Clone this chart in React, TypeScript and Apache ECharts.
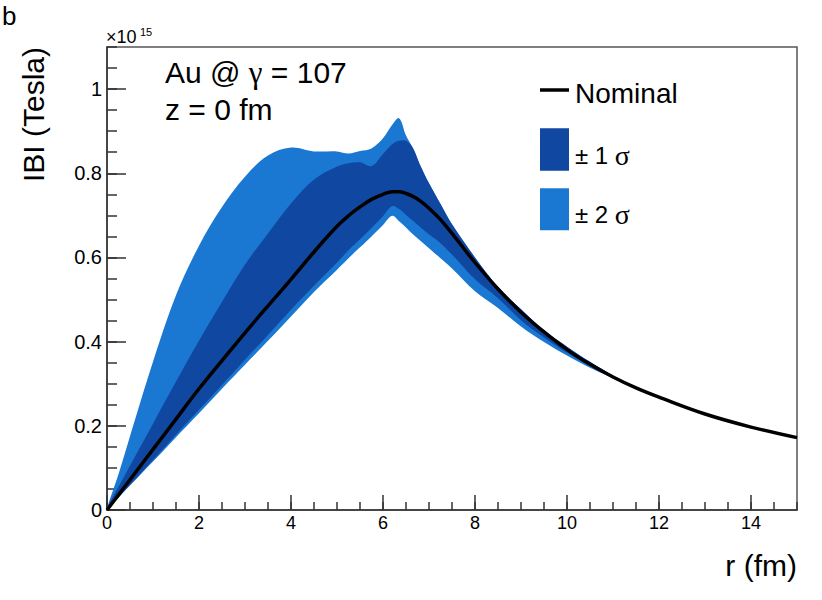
import React, { useEffect, useRef } from "react";
import * as echarts from "echarts";

const xs = [0, 0.25, 0.5, 1, 1.5, 2, 2.5, 3, 3.5, 4, 4.5, 5, 5.25, 5.5, 5.75, 6, 6.2, 6.35, 6.5, 6.65, 6.8, 7, 7.25, 7.5, 8, 8.5, 9, 9.5, 10, 10.5, 11, 11.5, 12, 13, 14, 15];

const nominal = [0, 0.036, 0.072, 0.144, 0.216, 0.288, 0.355, 0.421, 0.485, 0.548, 0.613, 0.674, 0.699, 0.72, 0.738, 0.75, 0.756, 0.756, 0.752, 0.745, 0.735, 0.717, 0.69, 0.657, 0.588, 0.525, 0.47, 0.423, 0.381, 0.346, 0.316, 0.29, 0.268, 0.228, 0.197, 0.172];

const upper1 = [0.005, 0.055, 0.105, 0.205, 0.305, 0.402, 0.494, 0.583, 0.657, 0.728, 0.785, 0.816, 0.824, 0.826, 0.817, 0.846, 0.869, 0.877, 0.877, 0.86, 0.821, 0.776, 0.727, 0.679, 0.6, 0.53, 0.477, 0.427, 0.388, 0.352, 0.319, 0.291, 0.268, 0.228, 0.197, 0.172];

const lower1 = [0, 0.03, 0.06, 0.119, 0.179, 0.238, 0.297, 0.357, 0.416, 0.476, 0.533, 0.588, 0.617, 0.643, 0.67, 0.698, 0.722, 0.715, 0.701, 0.687, 0.673, 0.655, 0.634, 0.607, 0.548, 0.503, 0.451, 0.41, 0.374, 0.342, 0.315, 0.29, 0.268, 0.228, 0.197, 0.172];

const upper2 = [0.005, 0.085, 0.175, 0.352, 0.51, 0.628, 0.72, 0.792, 0.842, 0.861, 0.852, 0.852, 0.847, 0.853, 0.859, 0.883, 0.915, 0.931, 0.89, 0.86, 0.821, 0.776, 0.727, 0.679, 0.6, 0.53, 0.477, 0.427, 0.388, 0.352, 0.319, 0.291, 0.268, 0.228, 0.197, 0.172];

const lower2 = [0, 0.029, 0.058, 0.115, 0.173, 0.23, 0.288, 0.345, 0.402, 0.46, 0.518, 0.571, 0.598, 0.624, 0.65, 0.677, 0.699, 0.686, 0.671, 0.655, 0.641, 0.622, 0.598, 0.574, 0.52, 0.48, 0.436, 0.399, 0.367, 0.338, 0.314, 0.29, 0.268, 0.228, 0.197, 0.172];

const legendNames = ["Nominal", "± 1 σ", "± 2 σ"];

const LIGHT = "#1a78d3";
const DARK = "#0f47a1";
const SANS = '"Liberation Sans", Arial, Helvetica, sans-serif';
const SERIF = '"Liberation Serif", "Times New Roman", serif';
const AXIS = "#333";

export default function App() {
  const ref = useRef<HTMLDivElement>(null);
  useEffect(() => {
    document.body.style.margin = "0";
    if (!ref.current) return;
    const chart = echarts.init(ref.current, null, { renderer: "svg" });
    const pair = (arr: number[]) => xs.map((x, i) => [x, arr[i]]);
    const yFmt = (v: number) => String(Math.round(v * 10) / 10);

    const bandSeries = (name: string, up: number[], lo: number[], color: string, z: number) => ({
      type: "custom",
      name,
      data: [[0, 0]],
      silent: true,
      z,
      itemStyle: { color },
      renderItem: (params: any, api: any) => {
        const top = xs.map((x, i) => api.coord([x, up[i]]));
        const bot = xs.map((x, i) => api.coord([x, lo[i]])).reverse();
        return {
          type: "polygon",
          shape: { points: top.concat(bot), smooth: 0.35 },
          style: { fill: color, stroke: null },
        };
      },
    });

    const sigmaRich = {
      a: { fontSize: 24, fontFamily: SANS, fill: "#000" },
      s: { fontSize: 28, fontFamily: SERIF, fill: "#000" },
    };

    const option: any = {
      animation: false,
      backgroundColor: "#fff",
      grid: {
        left: 107,
        right: 25,
        top: 47,
        bottom: 90,
        show: true,
        borderColor: "#555",
        borderWidth: 1.5,
        backgroundColor: "transparent",
      },
      xAxis: [
        {
          type: "value",
          min: 0,
          max: 15,
          interval: 2,
          position: "bottom",
          name: "r (fm)",
          nameLocation: "end",
          nameGap: 0,
          nameTextStyle: {
            align: "right",
            verticalAlign: "top",
            fontSize: 30,
            fontFamily: SANS,
            color: "#000",
            padding: [40, 0, 0, 0],
          },
          axisLine: { show: true, lineStyle: { color: AXIS, width: 1.5 } },
          axisTick: { show: true, inside: true, length: 15, lineStyle: { color: AXIS, width: 1.5 } },
          axisLabel: {
            show: true,
            margin: 4,
            fontSize: 18,
            fontFamily: SANS,
            color: "#000",
            showMaxLabel: false,
          },
          splitLine: { show: false },
        },
        {
          type: "value",
          min: 0,
          max: 15,
          interval: 0.5,
          position: "bottom",
          axisLine: { show: false },
          axisTick: { show: true, inside: true, length: 8, lineStyle: { color: AXIS, width: 1.5 } },
          axisLabel: { show: false },
          splitLine: { show: false },
        },
      ],
      yAxis: [
        {
          type: "value",
          min: 0,
          max: 1.1,
          interval: 0.2,
          position: "left",
          axisLine: { show: true, lineStyle: { color: AXIS, width: 1.5 } },
          axisTick: { show: true, inside: true, length: 19, lineStyle: { color: AXIS, width: 1.5 } },
          axisLabel: {
            show: true,
            margin: 5,
            fontSize: 20,
            fontFamily: SANS,
            color: "#000",
            showMaxLabel: false,
            formatter: yFmt,
          },
          splitLine: { show: false },
        },
        {
          type: "value",
          min: 0,
          max: 1.1,
          interval: 0.05,
          position: "left",
          axisLine: { show: false },
          axisTick: { show: true, inside: true, length: 10, lineStyle: { color: AXIS, width: 1.5 } },
          axisLabel: { show: false },
          splitLine: { show: false },
        },
      ],
      series: [
        bandSeries(legendNames[2], upper2, lower2, LIGHT, 2),
        bandSeries(legendNames[1], upper1, lower1, DARK, 3),
        {
          type: "line",
          name: legendNames[0],
          data: pair(nominal),
          symbol: "none",
          smooth: 0.4,
          itemStyle: { color: "#000" },
          lineStyle: { color: "#000", width: 3.5 },
          z: 5,
          silent: true,
        },
      ],
      graphic: [
        {
          type: "text",
          x: 2,
          y: 16,
          style: { text: "b", font: `26px ${SANS}`, fill: "#000", verticalAlign: "middle" },
        },
        {
          type: "text",
          x: 106,
          y: 37.2,
          style: { text: "×10", font: `18px ${SANS}`, fill: "#000", verticalAlign: "middle" },
        },
        {
          type: "text",
          x: 140,
          y: 32.2,
          style: { text: "15", font: `11px ${SANS}`, fill: "#000", verticalAlign: "middle" },
        },
        {
          type: "text",
          x: 33,
          y: 47,
          rotation: Math.PI / 2,
          style: {
            text: "IBI (Tesla)",
            font: `30px ${SANS}`,
            fill: "#000",
            align: "right",
            verticalAlign: "middle",
          },
        },
        {
          type: "text",
          x: 165,
          y: 72.6,
          style: {
            text: "{a|Au @ }{g|γ}{a| = 107}",
            fill: "#000",
            verticalAlign: "middle",
            rich: {
              a: { fontSize: 30, fontFamily: SANS, fill: "#000" },
              g: { fontSize: 31, fontFamily: SERIF, fill: "#000" },
            },
          },
        },
        {
          type: "text",
          x: 165,
          y: 109.6,
          style: { text: "z = 0 fm", font: `30px ${SANS}`, fill: "#000", verticalAlign: "middle" },
        },
        // legend
        {
          type: "line",
          shape: { x1: 540, y1: 90, x2: 569, y2: 90 },
          style: { stroke: "#000", lineWidth: 3.5 },
        },
        {
          type: "text",
          x: 575,
          y: 93.6,
          style: { text: legendNames[0], font: `28px ${SANS}`, fill: "#000", verticalAlign: "middle" },
        },
        {
          type: "rect",
          shape: { x: 540, y: 128.3, width: 29, height: 42.5 },
          style: { fill: DARK },
        },
        {
          type: "text",
          x: 575,
          y: 155,
          style: { text: "{a|± 1 }{s|σ}", fill: "#000", verticalAlign: "middle", rich: sigmaRich },
        },
        {
          type: "rect",
          shape: { x: 540, y: 188.3, width: 29, height: 42 },
          style: { fill: LIGHT },
        },
        {
          type: "text",
          x: 575,
          y: 214.5,
          style: { text: "{a|± 2 }{s|σ}", fill: "#000", verticalAlign: "middle", rich: sigmaRich },
        },
      ],
    };
    chart.setOption(option);
    return () => chart.dispose();
  }, []);
  return <div ref={ref} style={{ width: 822, height: 600 }} />;
}
